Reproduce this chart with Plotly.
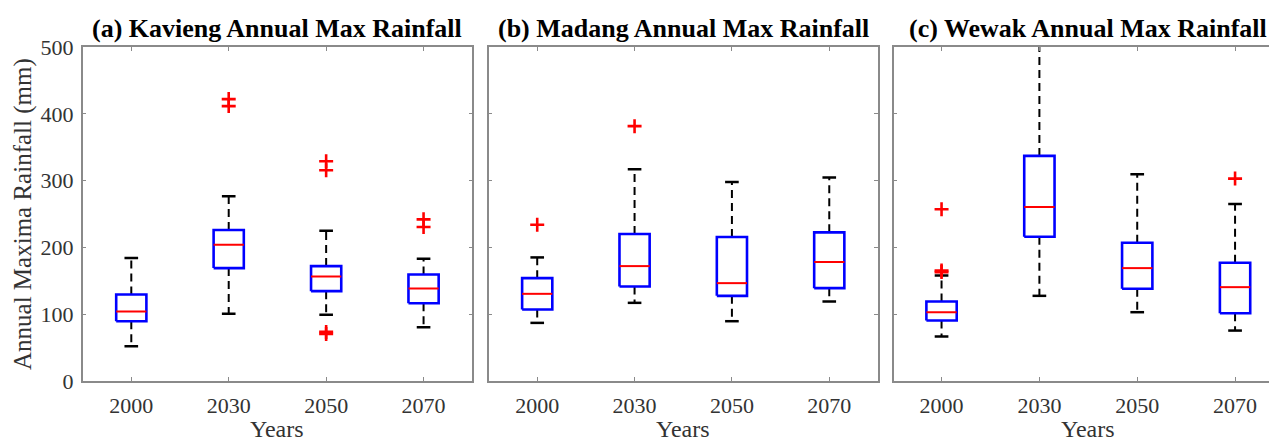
import plotly.graph_objects as go

years = ["2000", "2030", "2050", "2070"]
yticks = [0, 100, 200, 300, 400, 500]

titles = ["(a) Kavieng Annual Max Rainfall", "(b) Madang Annual Max Rainfall", "(c) Wewak Annual Max Rainfall"]

kavieng_lo = [52, 100.5, 99, 80.5]
kavieng_q1 = [89.5, 169, 134.5, 116.5]
kavieng_med = [104, 204, 156.5, 138.5]
kavieng_q3 = [129.5, 226, 172, 159.5]
kavieng_hi = [184, 276.5, 225, 183]
kavieng_out = [[], [411.5, 422], [70.5, 73.5, 315.5, 329], [230.5, 242]]

madang_lo = [87, 117, 89.5, 119]
madang_q1 = [107, 141.5, 127.5, 139]
madang_med = [130.5, 172, 146.5, 178]
madang_q3 = [154, 220, 215.5, 222.5]
madang_hi = [185, 317, 298, 304.5]
madang_out = [[234], [381.5], [], []]

wewak_lo = [66.5, 127.5, 103, 75.5]
wewak_q1 = [90.5, 216, 138, 101.5]
wewak_med = [103, 260.5, 169, 140.5]
wewak_q3 = [119, 337, 207, 177]
wewak_hi = [158, 540, 309.5, 265]
wewak_out = [[163, 165.5, 257], [], [], [303]]

panels = [
    (kavieng_lo, kavieng_q1, kavieng_med, kavieng_q3, kavieng_hi, kavieng_out),
    (madang_lo, madang_q1, madang_med, madang_q3, madang_hi, madang_out),
    (wewak_lo, wewak_q1, wewak_med, wewak_q3, wewak_hi, wewak_out),
]

BOX_HW = 0.155
CAP_HW = 0.07
FONT = "Liberation Serif"

fig = go.Figure()

for p, (lo, q1, med, q3, hi, out) in enumerate(panels):
    xa = "x" if p == 0 else f"x{p+1}"
    ya = "y" if p == 0 else f"y{p+1}"
    bx, by, mx, my, wx, wy, cx, cy, ox, oy = [], [], [], [], [], [], [], [], [], []
    for i in range(len(years)):
        c = i + 1
        bx += [c - BOX_HW, c + BOX_HW, c + BOX_HW, c - BOX_HW, c - BOX_HW, None]
        by += [q1[i], q1[i], q3[i], q3[i], q1[i], None]
        mx += [c - BOX_HW, c + BOX_HW, None]
        my += [med[i], med[i], None]
        wx += [c, c, None, c, c, None]
        wy += [q3[i], hi[i], None, q1[i], lo[i], None]
        cx += [c - CAP_HW, c + CAP_HW, None, c - CAP_HW, c + CAP_HW, None]
        cy += [hi[i], hi[i], None, lo[i], lo[i], None]
        for v in out[i]:
            ox.append(c)
            oy.append(v)
    common = dict(xaxis=xa, yaxis=ya, showlegend=False, hoverinfo="skip")
    fig.add_trace(go.Scatter(x=wx, y=wy, mode="lines",
                             line=dict(color="black", width=2, dash="8px,5px"), **common))
    fig.add_trace(go.Scatter(x=cx, y=cy, mode="lines",
                             line=dict(color="black", width=2.5), **common))
    fig.add_trace(go.Scatter(x=bx, y=by, mode="lines",
                             line=dict(color="#0000ff", width=2.6), **common))
    fig.add_trace(go.Scatter(x=mx, y=my, mode="lines",
                             line=dict(color="#ff0000", width=2), **common))
    fig.add_trace(go.Scatter(x=ox, y=oy, mode="markers",
                             marker=dict(symbol="cross-thin", size=10, color="#ff0000",
                                         line=dict(color="#ff0000", width=2.6)), **common))

W, H = 1277, 443
OFF = 8  # page body margin offset
domains = [[(82.7 - OFF) / W, (473 - OFF) / W],
           [(489.3 - OFF) / W, (879.3 - OFF) / W],
           [(895 - OFF) / W, 1.0]]
xranges = [[0.5, 4.5], [0.5, 4.5], [0.51, 4.49]]

axis_line = dict(showline=True, linecolor="#8a8a8a", linewidth=1.5, ticks="inside",
                 ticklen=4, tickcolor="#8a8a8a", tickwidth=1, showgrid=False, zeroline=False,
                 tickfont=dict(family=FONT, size=22, color="#333333"))

layout = dict(
    width=W, height=H,
    margin=dict(l=0, r=0, t=47 - OFF, b=int(round(443 - (380.5 - OFF)))),
    paper_bgcolor="white", plot_bgcolor="white",
    font=dict(family=FONT, color="#333333"),
    annotations=[],
)
for p in range(3):
    sfx = "" if p == 0 else str(p + 1)
    layout["xaxis" + sfx] = dict(domain=domains[p], range=xranges[p], anchor="y" + sfx,
                                 tickmode="array", tickvals=[1, 2, 3, 4], ticktext=years,
                                 mirror="ticks", ticklabelstandoff=4, **axis_line)
    layout["yaxis" + sfx] = dict(domain=[0, 1], range=[0, 500], anchor="x" + sfx,
                                 tickmode="array", tickvals=yticks,
                                 showticklabels=(p == 0),
                                 mirror="ticks",
                                 ticklabelstandoff=3, **axis_line)
    cxp = (domains[p][0] + domains[p][1]) / 2
    layout["annotations"].append(dict(text="<b>" + titles[p] + "</b>", xref="paper", yref="paper",
                                      x=cxp, y=1, yanchor="bottom", xanchor="center", yshift=2,
                                      showarrow=False, font=dict(family=FONT, size=26, color="black")))
    layout["annotations"].append(dict(text="Years", xref="paper", yref="paper",
                                      x=cxp, y=0, yanchor="middle", xanchor="center", yshift=-48,
                                      showarrow=False, font=dict(family=FONT, size=24, color="#333333")))

layout["annotations"].append(dict(text="Annual Maxima Rainfall (mm)", xref="paper", yref="paper",
                                  x=(23 - OFF) / W, y=0.5, xanchor="center", yanchor="middle", textangle=-90,
                                  showarrow=False, font=dict(family=FONT, size=25, color="#333333")))

fig.update_layout(**layout)
fig.write_html("out.html")
